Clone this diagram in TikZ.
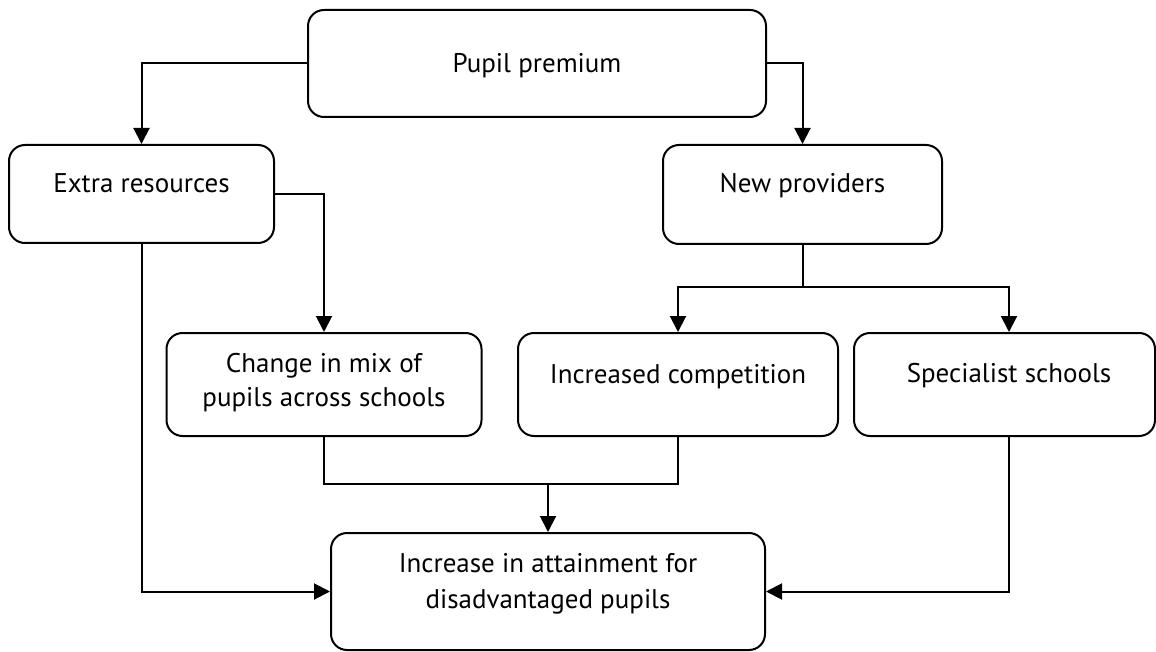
\documentclass[tikz,border=0pt]{standalone}
\usepackage{fontspec}
\setmainfont{PT Sans}
\usetikzlibrary{arrows.meta}
\begin{document}
\begin{tikzpicture}[x=1pt,y=-1pt,
  box/.style={draw=black, line width=2pt, rounded corners=16pt, inner sep=0pt},
  lbl/.style={font=\fontsize{27}{34}\selectfont, align=center, inner sep=0pt},
  conn/.style={line width=2pt, -{Triangle[length=16pt,width=16pt]}},
  plain/.style={line width=2pt}]
\useasboundingbox (0,0) rectangle (1156,652);
% boxes
\node[box, minimum width=458pt, minimum height=107pt] (pp) at (537,63.5) {};
\node[box, minimum width=265pt, minimum height=98pt] (er) at (141.5,194) {};
\node[box, minimum width=279pt, minimum height=99pt] (np) at (802.5,194.5) {};
\node[box, minimum width=315pt, minimum height=103pt] (cm) at (324,384.5) {};
\node[box, minimum width=320pt, minimum height=103pt] (ic) at (678,384.5) {};
\node[box, minimum width=301pt, minimum height=103pt] (ss) at (1004.5,384.5) {};
\node[box, minimum width=434pt, minimum height=117pt] (ia) at (548,591.5) {};
% texts
\node[lbl, anchor=base] (tpp) at (537,73) {Pupil premium};
\node[lbl, anchor=base] (ter) at (141.5,193) {Extra resources};
\node[lbl, anchor=base] (tnp) at (802.5,193) {New providers};
\node[lbl, anchor=base] (tcm) at (324,406) {Change in mix of\\pupils across schools};
\node[lbl, anchor=base] (tic) at (678,383) {Increased competition};
\node[lbl, anchor=base] (tss) at (1009,382) {Specialist schools};
\node[lbl, anchor=base, font=\fontsize{27}{36}\selectfont] (tia) at (548,608) {Increase in attainment for\\disadvantaged pupils};
% connectors
\coordinate (npj) at (802.5,287);
\coordinate (mj) at (548,484);
\draw[conn] (pp.west) -| (er.north);
\draw[conn] (pp.east) -| (np.north);
\draw[conn] (er.east) -| (cm.north);
\draw[plain] (np.south) -- (npj);
\draw[conn] (npj) -| (ic.north);
\draw[conn] (npj) -| ([xshift=4.5pt]ss.north);
\draw[plain] (cm.south) |- (mj) -| (ic.south);
\draw[conn] (mj) -- (ia.north);
\draw[conn] (er.south) |- (ia.west);
\draw[conn] ([xshift=4.5pt]ss.south) |- (ia.east);
\end{tikzpicture}
\end{document}
